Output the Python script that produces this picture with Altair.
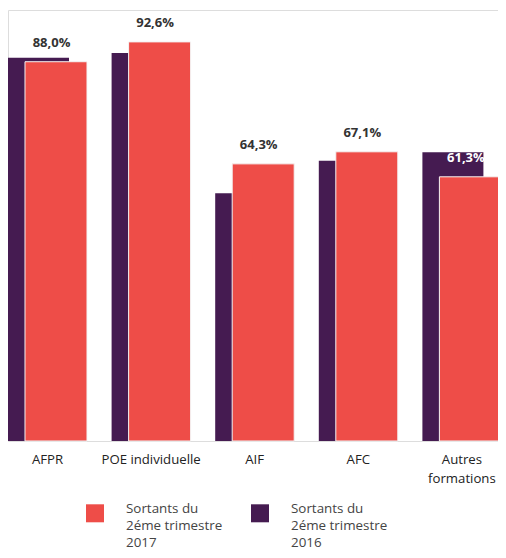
import altair as alt
import pandas as pd

categories = ["AFPR", "POE individuelle", "AIF", "AFC", "Autres formations"]
values_2017 = [88.0, 92.6, 64.3, 67.1, 61.3]
values_2016 = [88.9, 90.0, 57.5, 65.0, 67.0]
labels_2017 = ["88,0%", "92,6%", "64,3%", "67,1%", "61,3%"]
series = ["Sortants du\n2éme trimestre\n2017", "Sortants du\n2éme trimestre\n2016"]
colors = ["#EE4D48", "#451B51"]

rows = []
for c, v in zip(categories, values_2017):
    rows.append({"cat": c, "series": series[0], "value": v})
for c, v in zip(categories, values_2016):
    rows.append({"cat": c, "series": series[1], "value": v})
df = pd.DataFrame(rows)
lab = pd.DataFrame({"cat": categories, "value": values_2017, "label": labels_2017})

FONT = "Open Sans"

x = alt.X(
    "cat:N",
    sort=categories,
    title=None,
    scale=alt.Scale(paddingInner=0.2375, paddingOuter=0, range=[0, 493.4]),
    axis=alt.Axis(
        labelAngle=0, ticks=False, domain=False, labelPadding=12,
        labelFontSize=13.2, labelColor="#222222", labelFont=FONT,
        labelLineHeight=19,
        labelExpr="datum.label == 'Autres formations' ? ['Autres', 'formations'] : datum.label",
    ),
)
y = alt.Y("value:Q", scale=alt.Scale(domain=[0, 100]), axis=None)
color = alt.Color(
    "series:N",
    scale=alt.Scale(domain=series, range=colors),
    legend=alt.Legend(
        title=None, orient="none", legendX=78, legendY=494,
        direction="horizontal", columns=2, columnPadding=28,
        symbolType="square", symbolSize=324, symbolStrokeWidth=0,
        labelOffset=22, labelFontSize=13.4, labelFont=FONT, labelColor="#444444",
        labelBaseline="alphabetic", labelLimit=0,
        labelExpr="split(datum.label, '\\n')",
    ),
)

base = alt.Chart(df)
purple = base.transform_filter(alt.datum.series == series[1]).mark_bar(
    width=61, xOffset=-9
).encode(x=x, y=y, color=color)
red = base.transform_filter(alt.datum.series == series[0]).mark_bar(
    width=62, xOffset=8.5, stroke="#f4f4f4", strokeWidth=1
).encode(x=x, y=y, color=color)
text = alt.Chart(lab).mark_text(
    font=FONT, fontSize=13, fontWeight="bold", dy=-19, dx=4, baseline="middle"
).encode(
    x=alt.X("cat:N", sort=categories),
    y="value:Q",
    text="label:N",
    color=alt.condition(alt.datum.cat == "Autres formations", alt.value("#ffffff"), alt.value("#333333")),
)

chart = alt.layer(purple, red, text).properties(
    width=490, height=431,
    autosize=alt.AutoSizeParams(type="none"),
    padding={"left": 0, "top": 2, "right": 0, "bottom": 109},
).configure_view(stroke=None).configure(style={"guide-label": {"lineHeight": 17}})

chart.save("out.html", embed_options={"renderer": "svg", "actions": False})
